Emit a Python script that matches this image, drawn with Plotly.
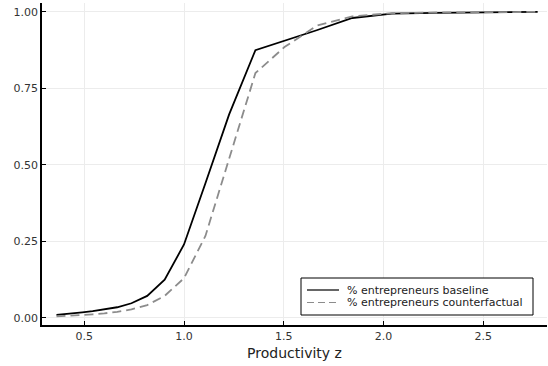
import plotly.graph_objects as go

# Productivity grid (log-spaced)
z_grid = [0.3606, 0.3993, 0.4422, 0.4897, 0.5423, 0.6005, 0.6650, 0.7364, 0.8155, 0.9030,
          1.0, 1.1074, 1.2263, 1.3580, 1.5038, 1.6653, 1.8441, 2.0422, 2.2614, 2.5043, 2.7732]

# Share of entrepreneurs at each productivity level
share_baseline = [0.010, 0.012, 0.015, 0.018, 0.022, 0.028, 0.035, 0.048, 0.072, 0.125,
                  0.240, 0.440, 0.665, 0.875, 0.905, 0.940, 0.980, 0.994, 0.997, 0.999, 1.000]
share_counterfactual = [0.005, 0.006, 0.008, 0.010, 0.012, 0.015, 0.020, 0.028, 0.042, 0.072,
                        0.130, 0.268, 0.520, 0.800, 0.885, 0.955, 0.985, 0.996, 0.998, 0.999, 1.000]

series_names = ["% entrepreneurs baseline", "% entrepreneurs counterfactual"]

x_ticks = [0.5, 1.0, 1.5, 2.0, 2.5]
y_ticks = [0.0, 0.25, 0.5, 0.75, 1.0]

W, H = 548, 366
M = dict(l=42, r=1, t=3, b=41)
plot_w = W - M["l"] - M["r"]
plot_h = H - M["t"] - M["b"]


def px_to_paper(px, py):
    """Pixel position on the page -> paper coordinates of the plot area."""
    return (px - M["l"]) / plot_w, (H - M["b"] - py) / plot_h


line_styles = [
    dict(color="black", width=1.8),
    dict(color="#8c8c8c", width=1.8, dash="9px,5px"),
]

fig = go.Figure()
for name, ys, style in zip(series_names, [share_baseline, share_counterfactual], line_styles):
    fig.add_trace(go.Scatter(x=z_grid, y=ys, mode="lines", name=name, line=style,
                             showlegend=False))

# Compact boxed legend in the lower-right corner
shapes = []
annotations = []
x0, y0 = px_to_paper(301, 315)
x1, y1 = px_to_paper(533, 278)
shapes.append(dict(type="rect", xref="paper", yref="paper", x0=x0, y0=y0, x1=x1, y1=y1,
                   line=dict(color="black", width=1), fillcolor="white", layer="above"))
for i, (name, style) in enumerate(zip(series_names, line_styles)):
    row_y = 290 + i * 12.5
    lx0, ly = px_to_paper(307, row_y)
    lx1, _ = px_to_paper(339, row_y)
    sample = dict(style)
    sample["width"] = 1.2
    if "dash" in sample:
        sample["dash"] = "7px,4px"
    shapes.append(dict(type="line", xref="paper", yref="paper", x0=lx0, x1=lx1, y0=ly, y1=ly,
                       line=sample, layer="above"))
    tx, _ = px_to_paper(345, row_y)
    annotations.append(dict(xref="paper", yref="paper", x=tx, y=ly, text=name,
                            showarrow=False, xanchor="left", yanchor="middle",
                            font=dict(family="DejaVu Sans", size=11, color="#222222")))

axis_common = dict(
    showgrid=True, gridcolor="#ececec", gridwidth=1,
    showline=True, linecolor="black", linewidth=1.5,
    ticks="inside", ticklen=4, tickcolor="black",
    zeroline=False,
    tickfont=dict(family="DejaVu Sans", size=11, color="#333333"),
)

fig.update_layout(
    width=W, height=H,
    margin=M,
    paper_bgcolor="white", plot_bgcolor="white",
    font=dict(family="DejaVu Sans", color="#222222"),
    xaxis=dict(
        range=[0.288, 2.82], tickvals=x_ticks,
        ticktext=[f"{v:.1f}" for v in x_ticks],
        title=dict(text="Productivity z", font=dict(size=14, color="#222222"), standoff=6),
        **axis_common,
    ),
    yaxis=dict(
        range=[-0.023, 1.029], tickvals=y_ticks,
        ticktext=[f"{v:.2f}" for v in y_ticks],
        **axis_common,
    ),
    shapes=shapes,
    annotations=annotations,
    showlegend=False,
)

fig.write_html("out.html")
